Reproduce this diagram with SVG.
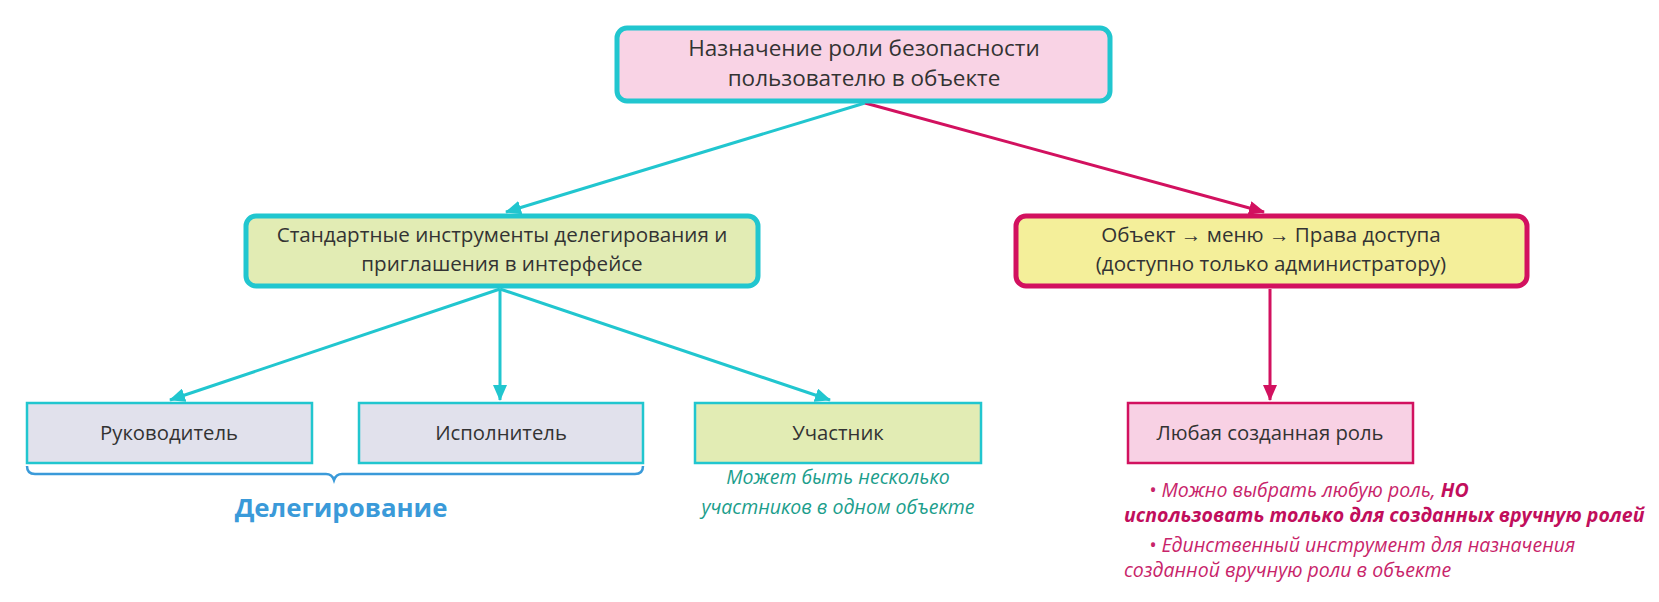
<svg xmlns="http://www.w3.org/2000/svg" width="1659" height="602" viewBox="0 0 1659 602">
<style>
text{font-family:"Open Sans","Noto Sans",sans-serif;fill:#333}
.t{font-size:22.5px;text-anchor:middle}
.s{font-size:20.6px;text-anchor:middle}
.l{font-size:20.3px;text-anchor:middle}
.big{stroke-width:5}
.leaf{stroke-width:2.5}
.teal{stroke:#21c6cf}
.mag{stroke:#d2115f}
.cl{fill:none;stroke-width:3}
.note{font-size:19.5px;font-style:italic}
</style>
<defs>
<marker id="at" markerWidth="16" markerHeight="14" refX="15" refY="7" orient="auto" markerUnits="userSpaceOnUse"><path d="M0,0 L16,7 L0,14 z" fill="#21c6cf"/></marker>
<marker id="am" markerWidth="16" markerHeight="14" refX="15" refY="7" orient="auto" markerUnits="userSpaceOnUse"><path d="M0,0 L16,7 L0,14 z" fill="#d2115f"/></marker>
</defs>
<rect width="1659" height="602" fill="#fff"/>
<g id="connectors">
<line class="cl teal" x1="865" y1="103" x2="506" y2="212" marker-end="url(#at)"/>
<line class="cl mag" x1="865" y1="103" x2="1264" y2="212" marker-end="url(#am)"/>
<line class="cl teal" x1="500" y1="289" x2="170" y2="400" marker-end="url(#at)"/>
<line class="cl teal" x1="500" y1="289" x2="500" y2="400" marker-end="url(#at)"/>
<line class="cl teal" x1="500" y1="289" x2="830" y2="400" marker-end="url(#at)"/>
<line class="cl mag" x1="1270" y1="289" x2="1270" y2="400" marker-end="url(#am)"/>
</g>
<g id="root">
<rect class="big teal" x="617" y="28" width="493" height="73" rx="10" fill="#f9d3e5"/>
<text class="t" x="864" y="56">Назначение роли безопасности</text>
<text class="t" x="864" y="86">пользователю в объекте</text>
</g>
<g id="standard">
<rect class="big teal" x="246" y="216" width="512" height="70" rx="10" fill="#e2ecb4"/>
<text class="s" x="502" y="242">Стандартные инструменты делегирования и</text>
<text class="s" x="502" y="271">приглашения в интерфейсе</text>
</g>
<g id="access">
<rect class="big mag" x="1016" y="216" width="511" height="70" rx="10" fill="#f4ef9a"/>
<text class="s" x="1271" y="242">Объект → меню → Права доступа</text>
<text class="s" x="1271" y="271">(доступно только администратору)</text>
</g>
<g id="manager">
<rect class="leaf teal" x="27" y="403" width="285" height="60" fill="#e1e1ec"/>
<text class="l" x="169" y="440">Руководитель</text>
</g>
<g id="executor">
<rect class="leaf teal" x="359" y="403" width="284" height="60" fill="#e1e1ec"/>
<text class="l" x="501" y="440">Исполнитель</text>
</g>
<g id="participant">
<rect class="leaf teal" x="695" y="403" width="286" height="60" fill="#e2ecb4"/>
<text class="l" x="838" y="440">Участник</text>
<text class="note" x="838" y="484" text-anchor="middle" style="fill:#1c9e8c">Может быть несколько</text>
<text class="note" x="838" y="514" text-anchor="middle" style="fill:#1c9e8c">участников в одном объекте</text>
</g>
<g id="anyrole">
<rect class="leaf mag" x="1128" y="403" width="285" height="60" fill="#f8d1e4"/>
<text class="l" x="1270" y="440">Любая созданная роль</text>
<text class="note" x="1149" y="497" style="fill:#c8246a">• Можно выбрать любую роль, <tspan font-weight="bold" style="fill:#c10e5c">НО</tspan></text>
<text class="note" x="1124" y="522" font-weight="bold" style="fill:#c10e5c">использовать только для созданных вручную ролей</text>
<text class="note" x="1149" y="552" style="fill:#c8246a">• Единственный инструмент для назначения</text>
<text class="note" x="1124" y="577" style="fill:#c8246a">созданной вручную роли в объекте</text>
</g>
<g id="delegation">
<path d="M27,466 q0,8 8,8 L326,474 q6,0 8,6 q2,-6 8,-6 L635,474 q8,0 8,-8" fill="none" stroke="#3a9ad9" stroke-width="2.5"/>
<text x="341" y="517" text-anchor="middle" font-size="25.8" font-weight="bold" style="fill:#3a9ad9">Делегирование</text>
</g>
</svg>
